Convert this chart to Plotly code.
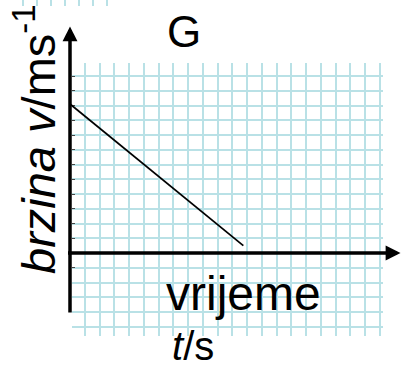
import plotly.graph_objects as go

# data (grid units: one grid square = 1)
t_vals = [0, 11.75]
v_vals = [10.1, 0.5]

title_text = "G"
x_label = "vrijeme"
x_unit = "<i>t</i>/s"
y_label = "<i>brzina v</i>/ms<sup>-1</sup>"

W, H = 401, 368
U = 14.75          # px per grid unit
OX, OY = 70, 253   # origin pixel

GRID = "#b9e1e6"
FONT = "Liberation Sans, Arial, sans-serif"

def ux(px):
    return (px - OX) / U

def uy(py):
    return (OY - py) / U

fig = go.Figure()

# grid subplot (x/y), dummy trace
fig.add_trace(go.Scatter(x=[None], y=[None], xaxis="x", yaxis="y", showlegend=False))
# small top-left grid
fig.add_trace(go.Scatter(x=[None], y=[None], xaxis="x3", yaxis="y3", showlegend=False))
# velocity line on full-figure axes (drawn above grid)
fig.add_trace(go.Scatter(x=t_vals, y=v_vals, mode="lines",
                         line=dict(color="black", width=1.7),
                         xaxis="x2", yaxis="y2", showlegend=False, hoverinfo="skip"))

gl, gr, gt, gb = 72, 383, 62.5, 336
noax = dict(visible=False, automargin=False)
fig.update_layout(
    template="none",
    width=W, height=H, margin=dict(l=0, r=0, t=0, b=0, pad=0, autoexpand=False),
    paper_bgcolor="white", plot_bgcolor="rgba(0,0,0,0)",
    showlegend=False,
    xaxis=dict(domain=[gl / W, gr / W], range=[ux(gl), ux(gr)], anchor="y",
               tick0=0, dtick=1, showgrid=True, gridcolor=GRID, gridwidth=1.6,
               zeroline=False, showline=False, showticklabels=False, ticks="",
               automargin=False),
    yaxis=dict(domain=[1 - gb / H, 1 - gt / H], range=[uy(gb), uy(gt)], anchor="x",
               tickmode="array", tickvals=[v for v in range(-1, 13) if v != 0],
               showgrid=True, gridcolor=GRID, gridwidth=1.6,
               ticks="inside", ticklen=3, tickwidth=1.2, tickcolor="#444",
               minor=dict(tickmode="array", tickvals=[-5, -4, -3, -2], showgrid=True,
                          gridcolor=GRID, gridwidth=1.6, ticks=""),
               zeroline=False, showline=False, showticklabels=False,
               automargin=False),
    xaxis2=dict(domain=[0, 1], range=[ux(0), ux(W)], anchor="y2", **noax),
    yaxis2=dict(domain=[0, 1], range=[uy(H), uy(0)], anchor="x2", **noax),
    xaxis3=dict(domain=[15 / W, 112 / W], range=[(15 - 23) / 14.0, (112 - 23) / 14.0],
                tick0=0, dtick=1, showgrid=True, gridcolor=GRID, gridwidth=1.6,
                zeroline=False, showline=False, showticklabels=False, ticks="",
                anchor="y3", automargin=False),
    yaxis3=dict(domain=[1 - 6 / H, 1], range=[0, 1], showgrid=False, zeroline=False,
                showline=False, showticklabels=False, ticks="", anchor="x3",
                automargin=False),
)

ann = []
# y axis arrow
ann.append(dict(x=0, y=uy(26.5), ax=0, ay=uy(314), xref="x2", yref="y2",
                axref="x2", ayref="y2", text="", showarrow=True, arrowhead=2,
                arrowsize=0.85, arrowwidth=3.5, arrowcolor="black", standoff=0))
# x axis arrow
ann.append(dict(x=ux(400.5), y=0, ax=ux(66.5), ay=0, xref="x2", yref="y2",
                axref="x2", ayref="y2", text="", showarrow=True, arrowhead=2,
                arrowsize=0.85, arrowwidth=3.5, arrowcolor="black", standoff=0))
# texts
txt = dict(xref="paper", yref="paper", showarrow=False, xanchor="center",
           yanchor="middle", borderpad=0)
ann.append(dict(x=184 / W, y=1 - 32 / H, text=title_text,
                font=dict(family=FONT, size=44, color="black"), **txt))
ann.append(dict(x=243 / W, y=1 - 293 / H, text=x_label,
                font=dict(family=FONT, size=48, color="black"), **txt))
ann.append(dict(x=193 / W, y=1 - 346 / H, text=x_unit,
                font=dict(family=FONT, size=40, color="black"), **txt))
ann.append(dict(x=35 / W, y=1 - 139 / H, text=y_label, textangle=-90,
                font=dict(family=FONT, size=47, color="black"), **txt))
fig.update_layout(annotations=ann)

fig.write_html("out.html", config={"displayModeBar": False},
               post_script="document.body.style.margin='0';document.body.style.overflow='hidden';")
